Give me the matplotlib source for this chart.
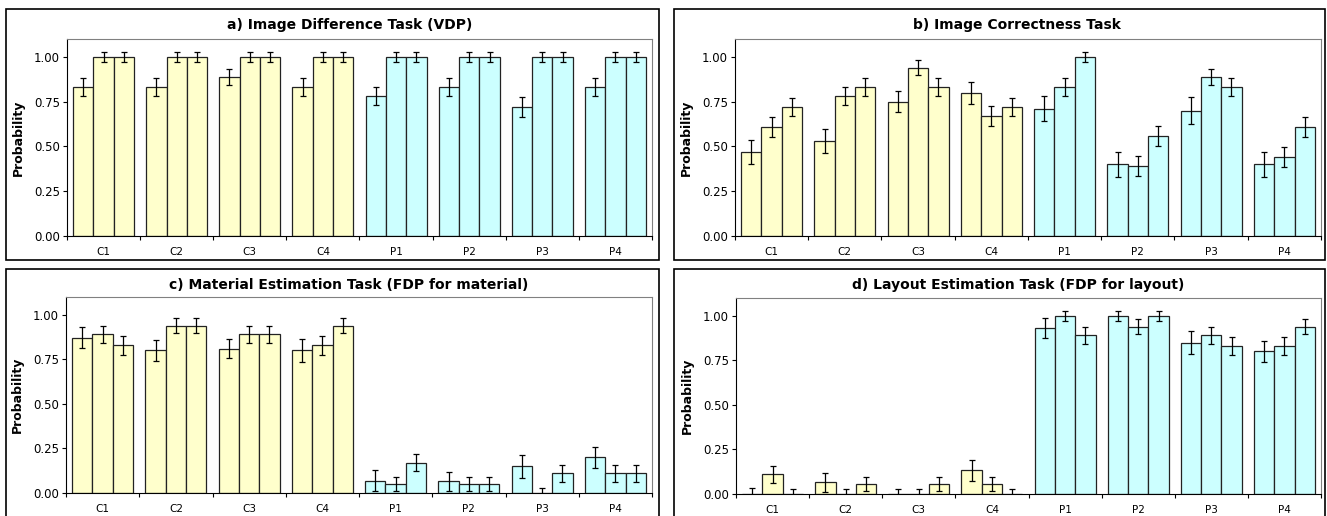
import numpy as np
import matplotlib
matplotlib.use('Agg')
import matplotlib.pyplot as plt
from matplotlib.patches import Rectangle

plt.rcParams['font.family'] = ['DejaVu Sans']

groups = ['C1', 'C2', 'C3', 'C4', 'P1', 'P2', 'P3', 'P4']
titles = ['a) Image Difference Task (VDP)', 'b) Image Correctness Task',
          'c) Material Estimation Task (FDP for material)', 'd) Layout Estimation Task (FDP for layout)']

# 3 bars per group
a_vals = [[0.83, 1, 1], [0.83, 1, 1], [0.89, 1, 1], [0.83, 1, 1], [0.78, 1, 1], [0.83, 1, 1], [0.72, 1, 1], [0.83, 1, 1]]
a_err = [[0.05, 0.03, 0.03], [0.05, 0.03, 0.03], [0.045, 0.03, 0.03], [0.05, 0.03, 0.03],
         [0.05, 0.03, 0.03], [0.05, 0.03, 0.03], [0.056, 0.03, 0.03], [0.05, 0.03, 0.03]]
b_vals = [[0.47, 0.61, 0.72], [0.53, 0.78, 0.83], [0.75, 0.94, 0.83], [0.80, 0.67, 0.72],
          [0.71, 0.83, 1.0], [0.40, 0.39, 0.56], [0.70, 0.89, 0.83], [0.40, 0.44, 0.61]]
b_err = [[0.067, 0.056, 0.052], [0.065, 0.05, 0.05], [0.058, 0.04, 0.05], [0.062, 0.054, 0.052],
         [0.069, 0.05, 0.03], [0.068, 0.057, 0.055], [0.076, 0.045, 0.05], [0.068, 0.057, 0.056]]
c_vals = [[0.87, 0.89, 0.83], [0.80, 0.94, 0.94], [0.81, 0.89, 0.89], [0.80, 0.83, 0.94],
          [0.07, 0.05, 0.17], [0.065, 0.05, 0.05], [0.15, 0.0, 0.11], [0.20, 0.11, 0.11]]
c_err = [[0.059, 0.047, 0.053], [0.061, 0.043, 0.043], [0.054, 0.047, 0.047], [0.062, 0.053, 0.043],
         [0.057, 0.041, 0.049], [0.053, 0.041, 0.041], [0.065, 0.028, 0.047], [0.059, 0.047, 0.047]]
d_vals = [[0, 0.11, 0], [0.065, 0, 0.056], [0, 0, 0.056], [0.133, 0.056, 0],
          [0.93, 1.0, 0.89], [1.0, 0.94, 1.0], [0.85, 0.89, 0.83], [0.80, 0.83, 0.94]]
d_err = [[0.034, 0.047, 0.028], [0.052, 0.03, 0.041], [0.03, 0.03, 0.041], [0.058, 0.041, 0.03],
         [0.055, 0.027, 0.047], [0.027, 0.042, 0.027], [0.066, 0.047, 0.051], [0.057, 0.052, 0.042]]

W, H = 1327, 516
fig = plt.figure(figsize=(W / 100, H / 100), dpi=100)

def px(l, t, r, b):  # pixel box -> figure fraction
    return [l / W, 1 - b / H, (r - l) / W, (b - t) / H]

frames = [(6, 9, 659, 260), (674, 9, 1325, 260), (6, 269, 659, 520), (674, 269, 1325, 520)]
axboxes = [(67, 39, 652, 236), (735, 39, 1321, 236), (66, 297, 652, 493), (736, 298, 1321, 494)]
title_pos = [(350, 25), (1017, 25), (349, 285), (1018, 285)]
data = [(a_vals, a_err), (b_vals, b_err), (c_vals, c_err), (d_vals, d_err)]

yellow = '#FFFFCC'
cyan = '#CCFFFF'
bw = 0.278

for k in range(4):
    l, t, r, b = frames[k]
    fig.patches.append(Rectangle((l / W, 1 - b / H), (r - l) / W, (b - t) / H, transform=fig.transFigure,
                                 fill=False, edgecolor='black', lw=1.2))
    tx, ty = title_pos[k]
    fig.text(tx / W, 1 - ty / H, titles[k], ha='center', va='center', fontsize=10, fontweight='bold')

    ax = fig.add_axes(px(*axboxes[k]))
    vals, errs = data[k]
    vals = np.array(vals)
    errs = np.array(errs)
    x = np.arange(len(groups))
    for j in range(3):
        cols = [yellow if g.startswith('C') else cyan for g in groups]
        ax.bar(x + (j - 1) * bw, vals[:, j], bw, color=cols, edgecolor='#222222', lw=0.9, zorder=2)
        ax.errorbar(x + (j - 1) * bw, vals[:, j], yerr=errs[:, j], fmt='none', ecolor='black',
                    elinewidth=0.9, capsize=2.5, capthick=0.9, zorder=3)
    ax.set_xlim(-0.5, 7.5)
    ax.set_ylim(0, 1.1)
    ax.set_yticks([0, 0.25, 0.5, 0.75, 1.0])
    ax.set_yticklabels(['0.00', '0.25', '0.50', '0.75', '1.00'], fontsize=8.5)
    ax.set_xticks(np.arange(-0.5, 8, 1))
    ax.set_xticklabels([])
    ax.set_xticks(x, minor=True)
    ax.set_xticklabels(groups, minor=True, fontsize=7.5)
    ax.tick_params(axis='x', which='minor', length=0, pad=8)
    ax.tick_params(axis='x', which='major', length=3, width=0.8)
    ax.tick_params(axis='y', length=3, width=0.8, pad=2)
    ax.set_ylabel('Probability', fontsize=9, fontweight='bold')
    ax.yaxis.set_label_coords(-0.072, 0.5)
    for s in ['top', 'right']:
        ax.spines[s].set_color('#808080')
    for s in ['left', 'bottom']:
        ax.spines[s].set_color('black')

fig.savefig('out.png', dpi=100)
